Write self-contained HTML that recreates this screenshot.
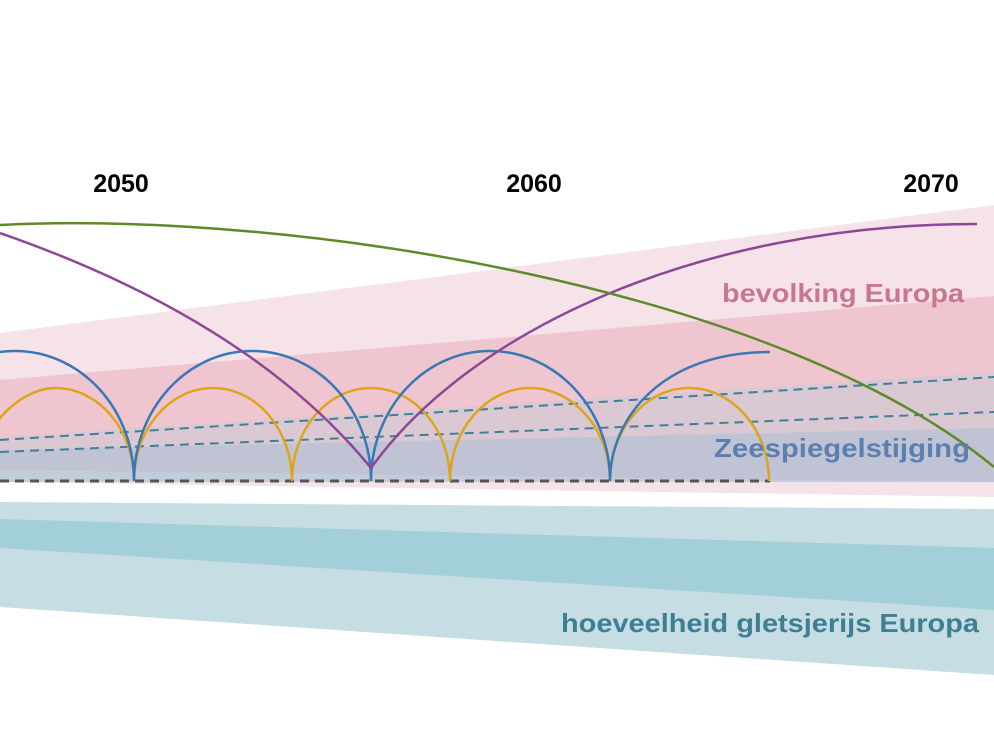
<!DOCTYPE html>
<html><head><meta charset="utf-8"><style>html,body{margin:0;padding:0;background:#fff}svg{display:block}text{font-family:"Liberation Sans",sans-serif;font-weight:bold}</style></head><body>
<svg width="994" height="746" viewBox="0 0 994 746" xmlns="http://www.w3.org/2000/svg">
<polygon points="0,333 994,205 994,497 0,482" fill="#f5e3e9"/>
<polygon points="0,380 994,296 994,482 0,482" fill="#efc6cf"/>
<polygon points="0,437 994,372 994,482 0,482" fill="#dac9d3"/>
<polygon points="0,450 994,428 994,482 0,482" fill="#c0c3d3"/>
<polygon points="0,470 994,482 0,482" fill="#c3ccd9"/>
<polygon points="0,502 994,509 994,675 0,607" fill="#c5dde3"/>
<polygon points="0,519 994,548 994,610 0,548" fill="#a3cfda"/>
<line x1="0" y1="440" x2="994" y2="377" stroke="#3f7f9a" stroke-width="2" stroke-dasharray="9,6"/>
<line x1="0" y1="452" x2="994" y2="412" stroke="#3f7f9a" stroke-width="2" stroke-dasharray="9,6"/>
<line x1="0" y1="481" x2="770" y2="481" stroke="#555" stroke-width="3" stroke-dasharray="9,6"/>
<g fill="none" stroke-width="2.5">
<path d="M-24 481 C-24 430 20 388 55 388 C99 388 134 430 134 481
 C134 430 169 388 213 388 C257 388 292 430 292 481
 C292 430 327 388 371 388 C415 388 450 430 450 481
 C450 430 486 388 530 388 C574 388 610 430 610 481
 C610 430 645 388 689 388 C733 388 769 430 769 481" stroke="#dca51b"/>
<path d="M-104 481 C-104 409 -51 351 15 351 C81 351 134 409 134 481
 C134 409 187 351 252 351 C318 351 371 409 371 481
 C371 409 424 351 490 351 C556 351 610 409 610 481
 C610 420 660 352 770 352" stroke="#3a78b5"/>
<path d="M0 233 Q250 320 371 468" stroke="#8e4796"/>
<path d="M371 468 C470 330 700 224 977 224" stroke="#8e4796"/>
<path d="M0 225 C300 210 780 290 994 467" stroke="#5e8a2a"/>
</g>
<text x="121" y="192" font-size="25" text-anchor="middle" fill="#000">2050</text>
<text x="534" y="192" font-size="25" text-anchor="middle" fill="#000">2060</text>
<text x="931" y="192" font-size="25" text-anchor="middle" fill="#000">2070</text>
<text x="722" y="302" font-size="26" fill="#c9768f" textLength="242" lengthAdjust="spacingAndGlyphs">bevolking Europa</text>
<text x="714" y="457" font-size="26" fill="#5a7fb0" textLength="256" lengthAdjust="spacingAndGlyphs">Zeespiegelstijging</text>
<text x="561" y="632" font-size="26" fill="#3f7f96" textLength="418" lengthAdjust="spacingAndGlyphs">hoeveelheid gletsjerijs Europa</text>
</svg>
</body></html>
